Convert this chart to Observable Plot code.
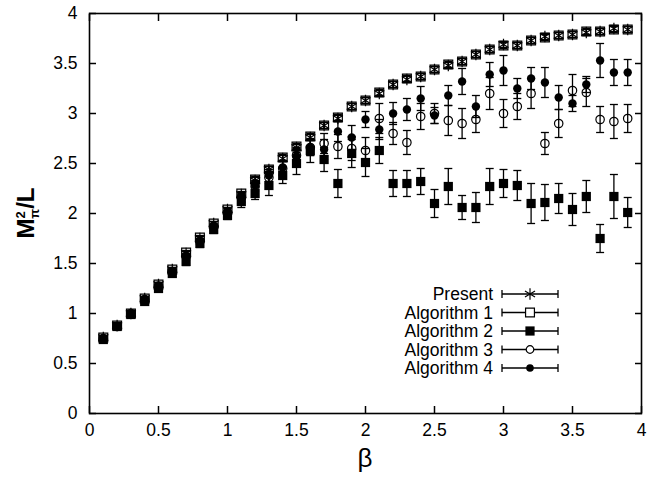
<!DOCTYPE html>
<html><head><meta charset="utf-8">
<script src="https://cdn.jsdelivr.net/npm/d3@7"></script>
<script src="https://cdn.jsdelivr.net/npm/@observablehq/plot@0.6"></script>
<style>
body{margin:0;background:#fff}
#chart{position:relative;width:660px;height:479px}
</style>
</head><body><div id="chart"></div>
<script>
const beta = [0.1,0.2,0.3,0.4,0.5,0.6,0.7,0.8,0.9,1.0,1.1,1.2,1.3,1.4,1.5,1.6,1.7,1.8,1.9,2.0,2.1,2.2,2.3,2.4,2.5,2.6,2.7,2.8,2.9,3.0,3.1,3.2,3.3,3.4,3.5,3.6,3.7,3.8,3.9];

const present = [0.76,0.88,1.00,1.15,1.29,1.44,1.60,1.75,1.90,2.04,2.19,
  2.33,2.44,2.55,2.66,2.76,2.88,2.95,3.07,3.13,3.20,3.29,3.34,3.37,3.44,3.48,3.52,3.59,3.64,3.69,3.68,3.73,3.77,3.78,3.79,3.81,3.82,3.85,3.84];
const presentErr = [0.02,0.02,0.02,0.02,0.02,0.02,0.02,0.02,0.02,0.02,0.02,
  0.03,0.03,0.03,0.03,0.03,0.03,0.03,0.03,0.03,0.03,0.03,0.03,0.03,0.03,0.03,0.03,0.03,0.03,0.03,0.03,0.03,0.03,0.03,0.03,0.03,0.03,0.03,0.03];

const alg1 = [0.76,0.88,1.00,1.15,1.29,1.44,1.61,1.76,1.90,2.04,2.20,
  2.34,2.44,2.56,2.67,2.77,2.88,2.96,3.07,3.13,3.21,3.29,3.35,3.37,3.44,3.49,3.52,3.59,3.64,3.68,3.68,3.73,3.76,3.78,3.79,3.82,3.82,3.84,3.84];
const alg1Err = [0.02,0.02,0.02,0.02,0.02,0.02,0.02,0.02,0.02,0.02,0.02,
  0.03,0.03,0.03,0.03,0.03,0.03,0.03,0.03,0.03,0.03,0.03,0.03,0.03,0.03,0.03,0.03,0.03,0.03,0.03,0.03,0.03,0.03,0.03,0.03,0.03,0.03,0.03,0.03];

const alg2 = [0.74,0.87,0.99,1.12,1.25,1.40,1.52,1.70,1.84,1.98,2.12,
  2.20,2.28,2.38,2.50,2.63,2.54,2.30,2.60,2.51,2.63,2.30,2.30,2.32,2.10,2.27,2.06,2.06,2.27,2.30,2.28,2.10,2.11,2.15,2.04,2.17,1.75,2.17,2.01];
const alg2Err = [0.02,0.02,0.02,0.02,0.02,0.03,0.04,0.04,0.04,0.04,0.06,
  0.06,0.10,0.08,0.11,0.12,0.12,0.14,0.14,0.14,0.13,0.13,0.13,0.13,0.14,0.18,0.12,0.15,0.18,0.14,0.15,0.20,0.18,0.15,0.16,0.16,0.14,0.22,0.15];

const alg3 = [0.75,0.87,1.00,1.14,1.27,1.42,1.57,1.72,1.87,2.01,2.16,
  2.27,2.36,2.45,2.58,2.66,2.70,2.67,2.65,2.63,2.95,2.80,2.71,2.97,3.00,2.93,2.90,2.94,3.20,3.00,3.07,3.20,2.70,2.90,3.23,3.21,2.94,2.92,2.95];
const alg3Err = [0.02,0.02,0.02,0.02,0.03,0.03,0.03,0.03,0.03,0.04,0.04,
  0.05,0.06,0.07,0.08,0.08,0.10,0.12,0.12,0.13,0.15,0.11,0.12,0.13,0.10,0.15,0.15,0.13,0.16,0.14,0.13,0.15,0.11,0.14,0.16,0.14,0.13,0.17,0.14];

const alg4 = [0.75,0.87,1.00,1.14,1.28,1.42,1.56,1.72,1.86,2.01,2.15,
  2.28,2.38,2.46,2.57,2.66,2.64,2.82,2.76,2.94,2.84,3.00,3.04,3.15,2.98,3.18,3.32,3.07,3.39,3.43,3.25,3.35,3.31,3.16,3.10,3.29,3.53,3.41,3.41];
const alg4Err = [0.02,0.02,0.02,0.02,0.03,0.03,0.03,0.03,0.03,0.04,0.04,
  0.05,0.06,0.07,0.08,0.08,0.10,0.10,0.12,0.08,0.10,0.11,0.11,0.12,0.08,0.10,0.13,0.11,0.12,0.15,0.10,0.11,0.15,0.12,0.08,0.08,0.17,0.13,0.13];

const seriesNames = ["Present","Algorithm 1","Algorithm 2","Algorithm 3","Algorithm 4"];
const xTicks = [0,0.5,1,1.5,2,2.5,3,3.5,4];
const xTickLabels = ["0","0.5","1","1.5","2","2.5","3","3.5","4"];
const yTicks = [0,0.5,1,1.5,2,2.5,3,3.5,4];
const yTickLabels = ["0","0.5","1","1.5","2","2.5","3","3.5","4"];
const xLabel = "β";

const FONT = "'Liberation Sans', Arial, Helvetica, sans-serif";
const styles = [
  {symbol:"asterisk", fill:"none", r:5.5, sw:1.2},
  {symbol:"square", fill:"none", r:5, sw:1.2},
  {symbol:"square", fill:"black", r:5.2, sw:0},
  {symbol:"circle", fill:"none", r:4.2, sw:1.2},
  {symbol:"circle", fill:"black", r:4.2, sw:0}
];
const ys = [present, alg1, alg2, alg3, alg4];
const es = [presentErr, alg1Err, alg2Err, alg3Err, alg4Err];

const cap = {draw(context, size){ const w = Math.sqrt(size/Math.PI); context.moveTo(-w,0); context.lineTo(w,0); }};

const marks = [];
seriesNames.forEach((name, k) => {
  const rows = beta.map((b,i) => ({series:name, x:b, y:ys[k][i], e:es[k][i]}));
  const st = styles[k];
  marks.push(Plot.ruleX(rows, {x:"x", y1:d=>d.y-d.e, y2:d=>d.y+d.e, stroke:"black", strokeWidth:1.3}));
  marks.push(Plot.dot(rows, {x:"x", y:d=>d.y-d.e, symbol:cap, r:4, stroke:"black", strokeWidth:1.3}));
  marks.push(Plot.dot(rows, {x:"x", y:d=>d.y+d.e, symbol:cap, r:4, stroke:"black", strokeWidth:1.3}));
  marks.push(Plot.dot(rows, {x:"x", y:"y", symbol:st.symbol, r:st.r, fill:st.fill, stroke:"black", strokeWidth:st.sw}));
});

const svg = Plot.plot({
  width:660, height:479,
  marginLeft:89, marginRight:19, marginTop:13, marginBottom:66,
  style:{fontFamily:FONT, fontSize:"17.5px", color:"black", background:"white"},
  x:{domain:[0,4]},
  y:{domain:[0,4]},
  marks:[
    Plot.axisX({anchor:"bottom", ticks:xTicks, tickSize:0, tickPadding:10, tickFormat:d=>xTickLabels[xTicks.indexOf(d)], label:null}),
    Plot.axisX({anchor:"bottom", ticks:xTicks, tickSize:-7, tickFormat:()=>"", label:null, strokeWidth:1.5}),
    Plot.axisX({anchor:"top", ticks:xTicks, tickSize:-7, tickFormat:()=>"", label:null, strokeWidth:1.5}),
    Plot.axisY({anchor:"left", ticks:yTicks, tickSize:0, tickPadding:12, tickFormat:d=>yTickLabels[yTicks.indexOf(d)], label:null}),
    Plot.axisY({anchor:"left", ticks:yTicks, tickSize:-7, tickFormat:()=>"", label:null, strokeWidth:1.5}),
    Plot.axisY({anchor:"right", ticks:yTicks, tickSize:-7, tickFormat:()=>"", label:null, strokeWidth:1.5}),
    ...marks,
    Plot.frame({stroke:"black", strokeWidth:1.6})
  ]
});
document.getElementById("chart").appendChild(svg);

const s = d3.select(svg);
// x label
s.append("text").attr("x", 365).attr("y", 467).attr("text-anchor","middle")
  .attr("font-family", FONT).attr("font-size", 26).text(xLabel);
// y label M^2_pi / L
const yl = s.append("text").attr("transform","translate(34,213) rotate(-90)")
  .attr("text-anchor","middle").attr("font-family", FONT).attr("font-size", 24).attr("font-weight","bold");
yl.append("tspan").text("M");
yl.append("tspan").attr("font-size",13).attr("dy",-9).text("2");
yl.append("tspan").attr("font-size",13).attr("dx",-7.5).attr("dy",14).text("π");
yl.append("tspan").attr("dy",-5).text("/L");

// legend
const lg = s.append("g").attr("font-family", FONT).attr("font-size", 17.5);
const rowY = [294,312.5,331,349.5,368];
seriesNames.forEach((name,k) => {
  const y = rowY[k];
  lg.append("text").attr("x",493).attr("y",y+6).attr("text-anchor","end").text(name);
  lg.append("line").attr("x1",502).attr("x2",558).attr("y1",y).attr("y2",y).attr("stroke","black").attr("stroke-width",1.3);
  lg.append("line").attr("x1",502).attr("x2",502).attr("y1",y-4).attr("y2",y+4).attr("stroke","black").attr("stroke-width",1.3);
  lg.append("line").attr("x1",558).attr("x2",558).attr("y1",y-4).attr("y2",y+4).attr("stroke","black").attr("stroke-width",1.3);
  const st = styles[k];
  const sym = st.symbol === "asterisk" ? d3.symbolAsterisk : st.symbol === "square" ? d3.symbolSquare : d3.symbolCircle;
  const r = st.symbol === "circle" ? 3.8 : st.r;
  lg.append("path").attr("d", d3.symbol(sym, Math.PI*r*r)()).attr("transform",`translate(530,${y})`)
    .attr("fill", st.fill === "none" ? "white" : "black").attr("stroke","black").attr("stroke-width", st.sw || 0);
});
</script>
</body></html>
